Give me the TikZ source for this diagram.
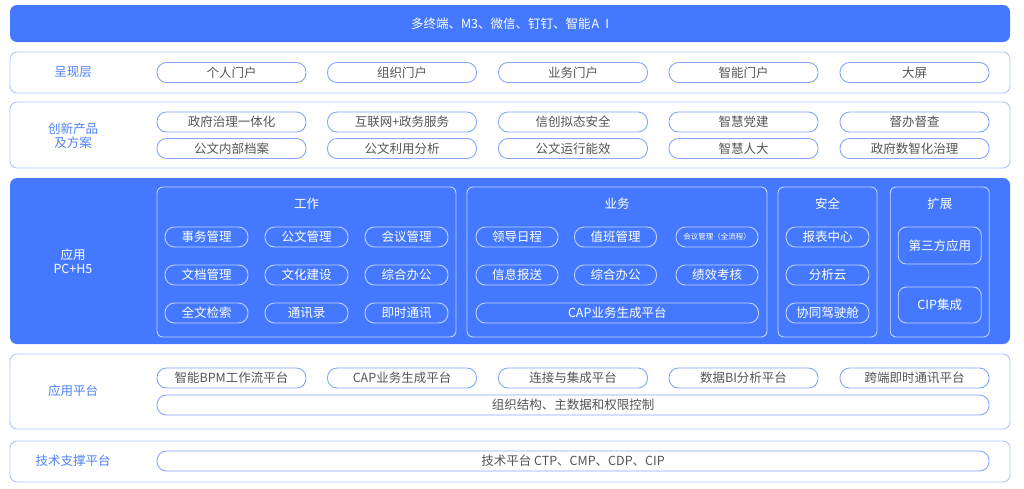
\documentclass[tikz,border=0pt]{standalone}
\usepackage{fontspec}
\setmainfont{Noto Sans CJK SC}
\definecolor{mainblue}{HTML}{4479FF}
\definecolor{lineblue}{HTML}{ADC6FF}
\definecolor{pillblue}{HTML}{84A6FA}
\definecolor{lblblue}{HTML}{4F82F7}
\definecolor{txtgray}{HTML}{555555}
\definecolor{inline}{HTML}{C2D5FF}
\newcommand{\fsz}{\fontsize{12.5}{15}\selectfont}
\tikzset{
  layerbox/.style={draw=lineblue, line width=0.9pt, rounded corners=7pt, fill=white},
  lbl/.style={text=lblblue, font=\fsz, align=center},
  pill/.style={draw=pillblue, line width=0.9pt, rounded corners=9.5pt, minimum width=149pt, minimum height=20pt, text=txtgray, font=\fsz, inner sep=0pt},
  wpill/.style={draw=inline, line width=0.9pt, rounded corners=9.5pt, minimum width=83pt, minimum height=20pt, text=white, font=\fsz, inner sep=0pt},
  grp/.style={draw=inline, line width=0.9pt, rounded corners=6pt, minimum height=150pt, inner sep=0pt},
  gtitle/.style={text=white, font=\fsz},
}
\begin{document}
\begin{tikzpicture}[x=1pt,y=-1pt]
\useasboundingbox (0,0) rectangle (1024,488);
% top bar
\node[fill=mainblue, rounded corners=7pt, minimum width=1000pt, minimum height=37pt, inner sep=0pt] (top) at (510,23.5) {};
\node[text=white, font=\fsz] (toptext) at (top.center) {多终端、M3、微信、钉钉、智能\hspace{1pt}A\hspace{6pt}I};
% presentation layer
\node[layerbox, minimum width=1000pt, minimum height=41pt, inner sep=0pt] (presl) at (510,72.5) {};
\node[lbl] (presl-l) at (73,72.5) {呈现层};
\node[pill] (p1) at (231.5,72.5) {个人门户};
\node[pill] (p2) at (402,72.5) {组织门户};
\node[pill] (p3) at (573,72.5) {业务门户};
\node[pill] (p4) at (743.5,72.5) {智能门户};
\node[pill] (p5) at (914.5,72.5) {大屏};
% innovation
\node[layerbox, minimum width=1000pt, minimum height=66pt, inner sep=0pt] (inno) at (510,135) {};
\node[lbl] (inno-l) at (73,136) {创新产品\\[-1pt]及方案};
\node[pill] (i1) at (231.5,122) {政府治理一体化};
\node[pill] (i2) at (402,122) {互联网+政务服务};
\node[pill] (i3) at (573,122) {信创拟态安全};
\node[pill] (i4) at (743.5,122) {智慧党建};
\node[pill] (i5) at (914.5,122) {督办督查};
\node[pill] (i6) at (231.5,148.5) {公文内部档案};
\node[pill] (i7) at (402,148.5) {公文利用分析};
\node[pill] (i8) at (573,148.5) {公文运行能效};
\node[pill] (i9) at (743.5,148.5) {智慧人大};
\node[pill] (i10) at (914.5,148.5) {政府数智化治理};
% application (blue)
\node[fill=mainblue, rounded corners=7pt, minimum width=1000pt, minimum height=166pt, inner sep=0pt] (app) at (510,261) {};
\node[text=white, font=\fsz, align=center] (app-l) at (73,261.5) {应用\\[-1pt]PC+H5};
\node[grp, minimum width=299pt] (work) at (306.5,262) {};
\node[gtitle] (work-t) at (306.5,204) {工作};
\node[wpill] (w1) at (206.5,237) {事务管理};
\node[wpill] (w2) at (306.5,237) {公文管理};
\node[wpill] (w3) at (406.5,237) {会议管理};
\node[wpill] (w4) at (206.5,275) {文档管理};
\node[wpill] (w5) at (306.5,275) {文化建设};
\node[wpill] (w6) at (406.5,275) {综合办公};
\node[wpill] (w7) at (206.5,313) {全文检索};
\node[wpill] (w8) at (306.5,313) {通讯录};
\node[wpill] (w9) at (406.5,313) {即时通讯};
\node[grp, minimum width=300pt] (biz) at (617,262) {};
\node[gtitle] (biz-t) at (617,204) {业务};
\node[wpill, minimum width=82pt] (b1) at (517,237) {领导日程};
\node[wpill, minimum width=82pt] (b2) at (615.5,237) {值班管理};
\node[wpill, minimum width=82pt, font=\fontsize{7.5}{9}\selectfont] (b3) at (717,237) {会议管理（全流程）};
\node[wpill, minimum width=82pt] (b4) at (517,275) {信息报送};
\node[wpill, minimum width=82pt] (b5) at (615.5,275) {综合办公};
\node[wpill, minimum width=82pt] (b6) at (717,275) {绩效考核};
\node[wpill, minimum width=282.5pt] (b7) at (617.25,313) {CAP业务生成平台};
\node[grp, minimum width=99pt] (sec) at (827.5,262) {};
\node[gtitle] (sec-t) at (827.5,204) {安全};
\node[wpill] (s1) at (827.5,237) {报表中心};
\node[wpill] (s2) at (827.5,275) {分析云};
\node[wpill] (s3) at (827.5,313) {协同驾驶舱};
\node[grp, minimum width=99pt] (ext) at (939.75,262) {};
\node[gtitle] (ext-t) at (939.75,204) {扩展};
\node[wpill, minimum height=37pt, rounded corners=8pt] (e1) at (939.75,245.5) {第三方应用};
\node[wpill, minimum height=36pt, rounded corners=8pt] (e2) at (939.75,305) {CIP集成};
% app platform
\node[layerbox, minimum width=1000pt, minimum height=75pt, inner sep=0pt] (plat) at (510,391.5) {};
\node[lbl] (plat-l) at (73,391) {应用平台};
\node[pill] (a1) at (231.5,378) {智能BPM工作流平台};
\node[pill] (a2) at (402,378) {CAP业务生成平台};
\node[pill] (a3) at (573,378) {连接与集成平台};
\node[pill] (a4) at (743.5,378) {数据BI分析平台};
\node[pill] (a5) at (914.5,378) {跨端即时通讯平台};
\node[pill, minimum width=832pt] (a6) at (573,405) {组织结构、主数据和权限控制};
% tech support
\node[layerbox, minimum width=1000pt, minimum height=41pt, inner sep=0pt] (tech) at (510,461.5) {};
\node[lbl] (tech-l) at (73,461) {技术支撑平台};
\node[pill, minimum width=832pt] (t1) at (573,461) {技术平台 CTP、CMP、CDP、CIP};
\end{tikzpicture}
\end{document}
